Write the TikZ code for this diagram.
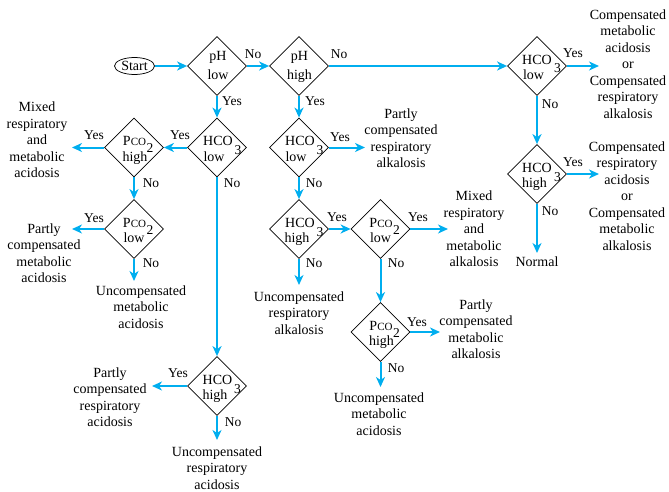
\documentclass[tikz,border=0pt]{standalone}
\usepackage{fontspec}
\setmainfont{Liberation Serif}
\usetikzlibrary{shapes.geometric,arrows.meta}
\definecolor{flow}{RGB}{0,174,239}
\tikzset{
  dia/.style={draw, shape=diamond, minimum width=59pt, minimum height=59pt, inner sep=0pt, line width=0.75pt},
  dt/.style={font=\fontsize{14}{17}\selectfont, inner sep=0pt, anchor=base},
  sub/.style={font=\fontsize{13.5}{13.5}\selectfont, inner sep=0pt, anchor=base},
  res/.style={align=center, font=\fontsize{14}{16.5}\selectfont, inner sep=0pt},
  lab/.style={font=\fontsize{13.5}{15}\selectfont, inner sep=0pt},
  arr/.style={draw=flow, line width=2pt, -{Stealth[length=10pt,width=9pt,inset=3pt]}},
}
\newcommand{\smallco}{{\fontsize{11}{11}\selectfont CO}}
\begin{document}
\begin{tikzpicture}[x=1pt,y=-1pt]
\useasboundingbox (0,0) rectangle (669,492);

% start
\node[draw, ellipse, minimum width=40pt, minimum height=17pt, inner sep=0pt, line width=0.75pt, font=\fontsize{14}{14}\selectfont] (start) at (134.5,66) {Start};

% diamonds
\node[dia] (d1) at (217,66) {};
\node[dia] (d2) at (299,66) {};
\node[dia] (d3) at (537,66) {};
\node[dia] (d4) at (537,174) {};
\node[dia] (d5) at (217,147.5) {};
\node[dia] (d6) at (134,147.5) {};
\node[dia] (d7) at (134,229) {};
\node[dia] (d8) at (217,386) {};
\node[dia] (d9) at (299,147.5) {};
\node[dia] (d10) at (299,229) {};
\node[dia] (d11) at (380.5,229) {};
\node[dia] (d12) at (380.5,332) {};

% diamond texts
\node[dt] (t1a) at (218,61) {pH};
\node[dt] (t1b) at (218,79.5) {low};
\node[dt] (t2a) at (299.5,61) {pH};
\node[dt] (t2b) at (299.5,79.5) {high};

\node[dt] (t3a) at (537,64.5) {HCO};
\node[dt] (t3b) at (533.5,79.5) {low};
\node[sub] (t3c) at (557.5,73) {3};

\node[dt] (t4a) at (537,172.5) {HCO};
\node[dt] (t4b) at (534.5,187.5) {high};
\node[sub] (t4c) at (557.5,181) {3};

\node[dt] (t5a) at (218,146) {HCO};
\node[dt] (t5b) at (214,161) {low};
\node[sub] (t5c) at (238,154.5) {3};

\node[dt] (t6a) at (134.5,146) {P\smallco};
\node[dt] (t6b) at (135,161) {high};
\node[sub] (t6c) at (150,153) {2};

\node[dt] (t7a) at (134.5,227.5) {P\smallco};
\node[dt] (t7b) at (134,242.5) {low};
\node[sub] (t7c) at (150,234.5) {2};

\node[dt] (t8a) at (217.5,384.5) {HCO};
\node[dt] (t8b) at (215,399.5) {high};
\node[sub] (t8c) at (237.5,393) {3};

\node[dt] (t9a) at (300,146) {HCO};
\node[dt] (t9b) at (296,161) {low};
\node[sub] (t9c) at (320,154.5) {3};

\node[dt] (t10a) at (300,227.5) {HCO};
\node[dt] (t10b) at (297,242.5) {high};
\node[sub] (t10c) at (320,236) {3};

\node[dt] (t11a) at (381,227.5) {P\smallco};
\node[dt] (t11b) at (380.5,242.5) {low};
\node[sub] (t11c) at (396.5,234.5) {2};

\node[dt] (t12a) at (381,330.5) {P\smallco};
\node[dt] (t12b) at (381.5,345.5) {high};
\node[sub] (t12c) at (396.5,337.5) {2};

% results
\node[res] (r1) at (628,64) {Compensated\\metabolic\\acidosis\\or\\Compensated\\respiratory\\alkalosis};
\node[res] (r2) at (627,196) {Compensated\\respiratory\\acidosis\\or\\Compensated\\metabolic\\alkalosis};
\node[res] (rn) at (537,262) {Normal};
\node[res] (r3) at (37,140) {Mixed\\respiratory\\and\\metabolic\\acidosis};
\node[res] (r4) at (44,253) {Partly\\compensated\\metabolic\\acidosis};
\node[res] (r5) at (141,307) {Uncompensated\\metabolic\\acidosis};
\node[res] (r6) at (401,138) {Partly\\compensated\\respiratory\\alkalosis};
\node[res] (r7) at (474,229) {Mixed\\respiratory\\and\\metabolic\\alkalosis};
\node[res] (r8) at (299,313) {Uncompensated\\respiratory\\alkalosis};
\node[res] (r9) at (110,397) {Partly\\compensated\\respiratory\\acidosis};
\node[res] (r10) at (217,468) {Uncompensated\\respiratory\\acidosis};
\node[res] (r11) at (476,329) {Partly\\compensated\\metabolic\\alkalosis};
\node[res] (r12) at (379,414) {Uncompensated\\metabolic\\acidosis};

% labels
\node[lab] (l1) at (253,54) {No};
\node[lab] (l2) at (339,54) {No};
\node[lab] (l3) at (232,101) {Yes};
\node[lab] (l4) at (315,101) {Yes};
\node[lab] (l5) at (573,53) {Yes};
\node[lab] (l6) at (550,104) {No};
\node[lab] (l7) at (573,162) {Yes};
\node[lab] (l8) at (550,211) {No};
\node[lab] (l9) at (180,135) {Yes};
\node[lab] (l10) at (94,135) {Yes};
\node[lab] (l11) at (151,183) {No};
\node[lab] (l12) at (94,218) {Yes};
\node[lab] (l13) at (151,263) {No};
\node[lab] (l14) at (232,183) {No};
\node[lab] (l15) at (178,373) {Yes};
\node[lab] (l16) at (233,422) {No};
\node[lab] (l17) at (340,137) {Yes};
\node[lab] (l18) at (314,183) {No};
\node[lab] (l19) at (337,217) {Yes};
\node[lab] (l20) at (418,217) {Yes};
\node[lab] (l21) at (314,263) {No};
\node[lab] (l22) at (396,263) {No};
\node[lab] (l23) at (417,322) {Yes};
\node[lab] (l24) at (396,368) {No};

% free arrow ends
\coordinate (e1) at (599,66);
\coordinate (e2) at (599,174);
\coordinate (e3) at (537,253);
\coordinate (e4) at (72,147.5);
\coordinate (e5) at (72,229);
\coordinate (e6) at (134,281);
\coordinate (e7) at (152,386);
\coordinate (e8) at (217,440);
\coordinate (e9) at (365,147.5);
\coordinate (e10) at (448,229);
\coordinate (e11) at (299,285);
\coordinate (e12) at (440,332);
\coordinate (e13) at (380.5,387);

% connectors
\draw[arr] (start) -- (d1);
\draw[arr] (d1) -- (d2);
\draw[arr] (d2) -- (d3);
\draw[arr] (d3.east) -- (e1);
\draw[arr] (d3) -- (d4);
\draw[arr] (d4.east) -- (e2);
\draw[arr] (d4.south) -- (e3);
\draw[arr] (d1) -- (d5);
\draw[arr] (d5) -- (d6);
\draw[arr] (d6.west) -- (e4);
\draw[arr] (d6) -- (d7);
\draw[arr] (d7.west) -- (e5);
\draw[arr] (d7.south) -- (e6);
\draw[arr] (d5) -- (d8);
\draw[arr] (d8.west) -- (e7);
\draw[arr] (d8.south) -- (e8);
\draw[arr] (d2) -- (d9);
\draw[arr] (d9.east) -- (e9);
\draw[arr] (d9) -- (d10);
\draw[arr] (d10) -- (d11);
\draw[arr] (d11.east) -- (e10);
\draw[arr] (d10.south) -- (e11);
\draw[arr] (d11) -- (d12);
\draw[arr] (d12.east) -- (e12);
\draw[arr] (d12.south) -- (e13);
\end{tikzpicture}
\end{document}
